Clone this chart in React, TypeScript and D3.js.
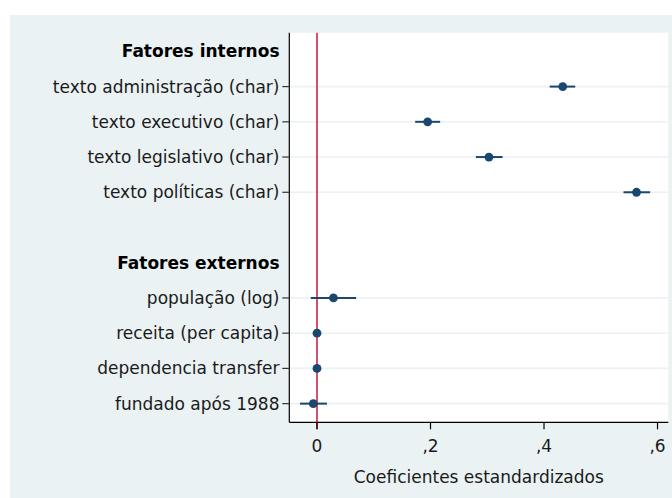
import React from "react";
import * as d3 from "d3";

const rowLabels = [
  "Fatores internos",
  "texto administração (char)",
  "texto executivo (char)",
  "texto legislativo (char)",
  "texto políticas (char)",
  "",
  "Fatores externos",
  "população (log)",
  "receita (per capita)",
  "dependencia transfer",
  "fundado após 1988",
];
const headerRows = ["Fatores internos", "Fatores externos"];
const variables = [
  "texto administração (char)",
  "texto executivo (char)",
  "texto legislativo (char)",
  "texto políticas (char)",
  "população (log)",
  "receita (per capita)",
  "dependencia transfer",
  "fundado após 1988",
];
const estimates = [0.433, 0.195, 0.303, 0.563, 0.029, 0.0, 0.0, -0.0065];
const lower = [0.41, 0.173, 0.28, 0.54, -0.011, -0.002, -0.002, -0.03];
const upper = [0.455, 0.217, 0.327, 0.587, 0.069, 0.002, 0.002, 0.0176];
const xTicks = [0, 0.2, 0.4, 0.6];
const xTickLabels = ["0", ",2", ",4", ",6"];
const xTitle = "Coeficientes estandardizados";

const W = 672;
const H = 498;
const plot = { left: 289.3, right: 668.3, top: 32.7, bottom: 422.3 };
const FONT = "'DejaVu Sans', Verdana, sans-serif";
const FS = 17;
const navy = "#1a476f";
const bg = "#eaf2f3";

export default function App() {
  const x = d3.scaleLinear().domain([-0.0488, 0.619]).range([plot.left, plot.right]);
  const y = d3
    .scalePoint<string>()
    .domain(rowLabels.map((d, i) => (d === "" ? "__blank" + i : d)))
    .range([plot.top, plot.bottom])
    .padding(0.53);
  const yKey = (label: string) => y(label) as number;

  return (
    <svg width={W} height={H} style={{ position: "absolute", left: 0, top: 0 }}>
      <rect x={0} y={0} width={W} height={H} fill="#ffffff" />
      <rect x={10} y={15} width={W - 10} height={H - 15} fill={bg} />
      <rect
        x={plot.left}
        y={plot.top}
        width={plot.right - plot.left}
        height={plot.bottom - plot.top}
        fill="#ffffff"
      />
      {/* gridlines */}
      {variables.map((v) => (
        <line
          key={"g" + v}
          x1={plot.left}
          x2={plot.right}
          y1={yKey(v)}
          y2={yKey(v)}
          stroke={bg}
          strokeWidth={1.6}
        />
      ))}
      {/* zero line */}
      <line
        x1={x(0)}
        x2={x(0)}
        y1={plot.top}
        y2={plot.bottom + 7}
        stroke="#c8163c"
        strokeWidth={1.5}
      />
      {/* CI and points */}
      {variables.map((v, i) => (
        <g key={"p" + v}>
          <line
            x1={x(lower[i])}
            x2={x(upper[i])}
            y1={yKey(v)}
            y2={yKey(v)}
            stroke={navy}
            strokeWidth={2}
          />
          <circle cx={x(estimates[i])} cy={yKey(v)} r={4.4} fill={navy} />
        </g>
      ))}
      {/* axes */}
      <line x1={plot.left} x2={plot.left} y1={plot.top} y2={plot.bottom} stroke="#000" strokeWidth={1.2} />
      <line x1={plot.left} x2={plot.right} y1={plot.bottom} y2={plot.bottom} stroke="#000" strokeWidth={1.2} />
      {/* y ticks and labels */}
      {rowLabels.map((lab, i) => {
        if (lab === "") return null;
        const isHeader = headerRows.includes(lab);
        const yy = yKey(lab);
        return (
          <g key={"l" + i}>
            {!isHeader && (
              <line x1={plot.left - 7} x2={plot.left} y1={yy} y2={yy} stroke="#333" strokeWidth={1.2} />
            )}
            <text
              x={279.5}
              y={yy}
              dy="0.35em"
              textAnchor="end"
              fontFamily={FONT}
              fontSize={FS}
              fontWeight={isHeader ? "bold" : "normal"}
              fill={isHeader ? "#000" : "#1a1a1a"}
            >
              {lab}
            </text>
          </g>
        );
      })}
      {/* x ticks */}
      {xTicks.map((t, i) => (
        <g key={"t" + t}>
          <line x1={x(t)} x2={x(t)} y1={plot.bottom} y2={plot.bottom + 7} stroke="#000" strokeWidth={1.2} />
          <text
            x={x(t)}
            y={446.5}
            dy="0.35em"
            textAnchor="middle"
            fontFamily={FONT}
            fontSize={FS}
            fill="#1a1a1a"
          >
            {xTickLabels[i]}
          </text>
        </g>
      ))}
      <text
        x={(plot.left + plot.right) / 2}
        y={477.5}
        dy="0.35em"
        textAnchor="middle"
        fontFamily={FONT}
        fontSize={FS}
        fill="#1a1a1a"
      >
        {xTitle}
      </text>
    </svg>
  );
}
